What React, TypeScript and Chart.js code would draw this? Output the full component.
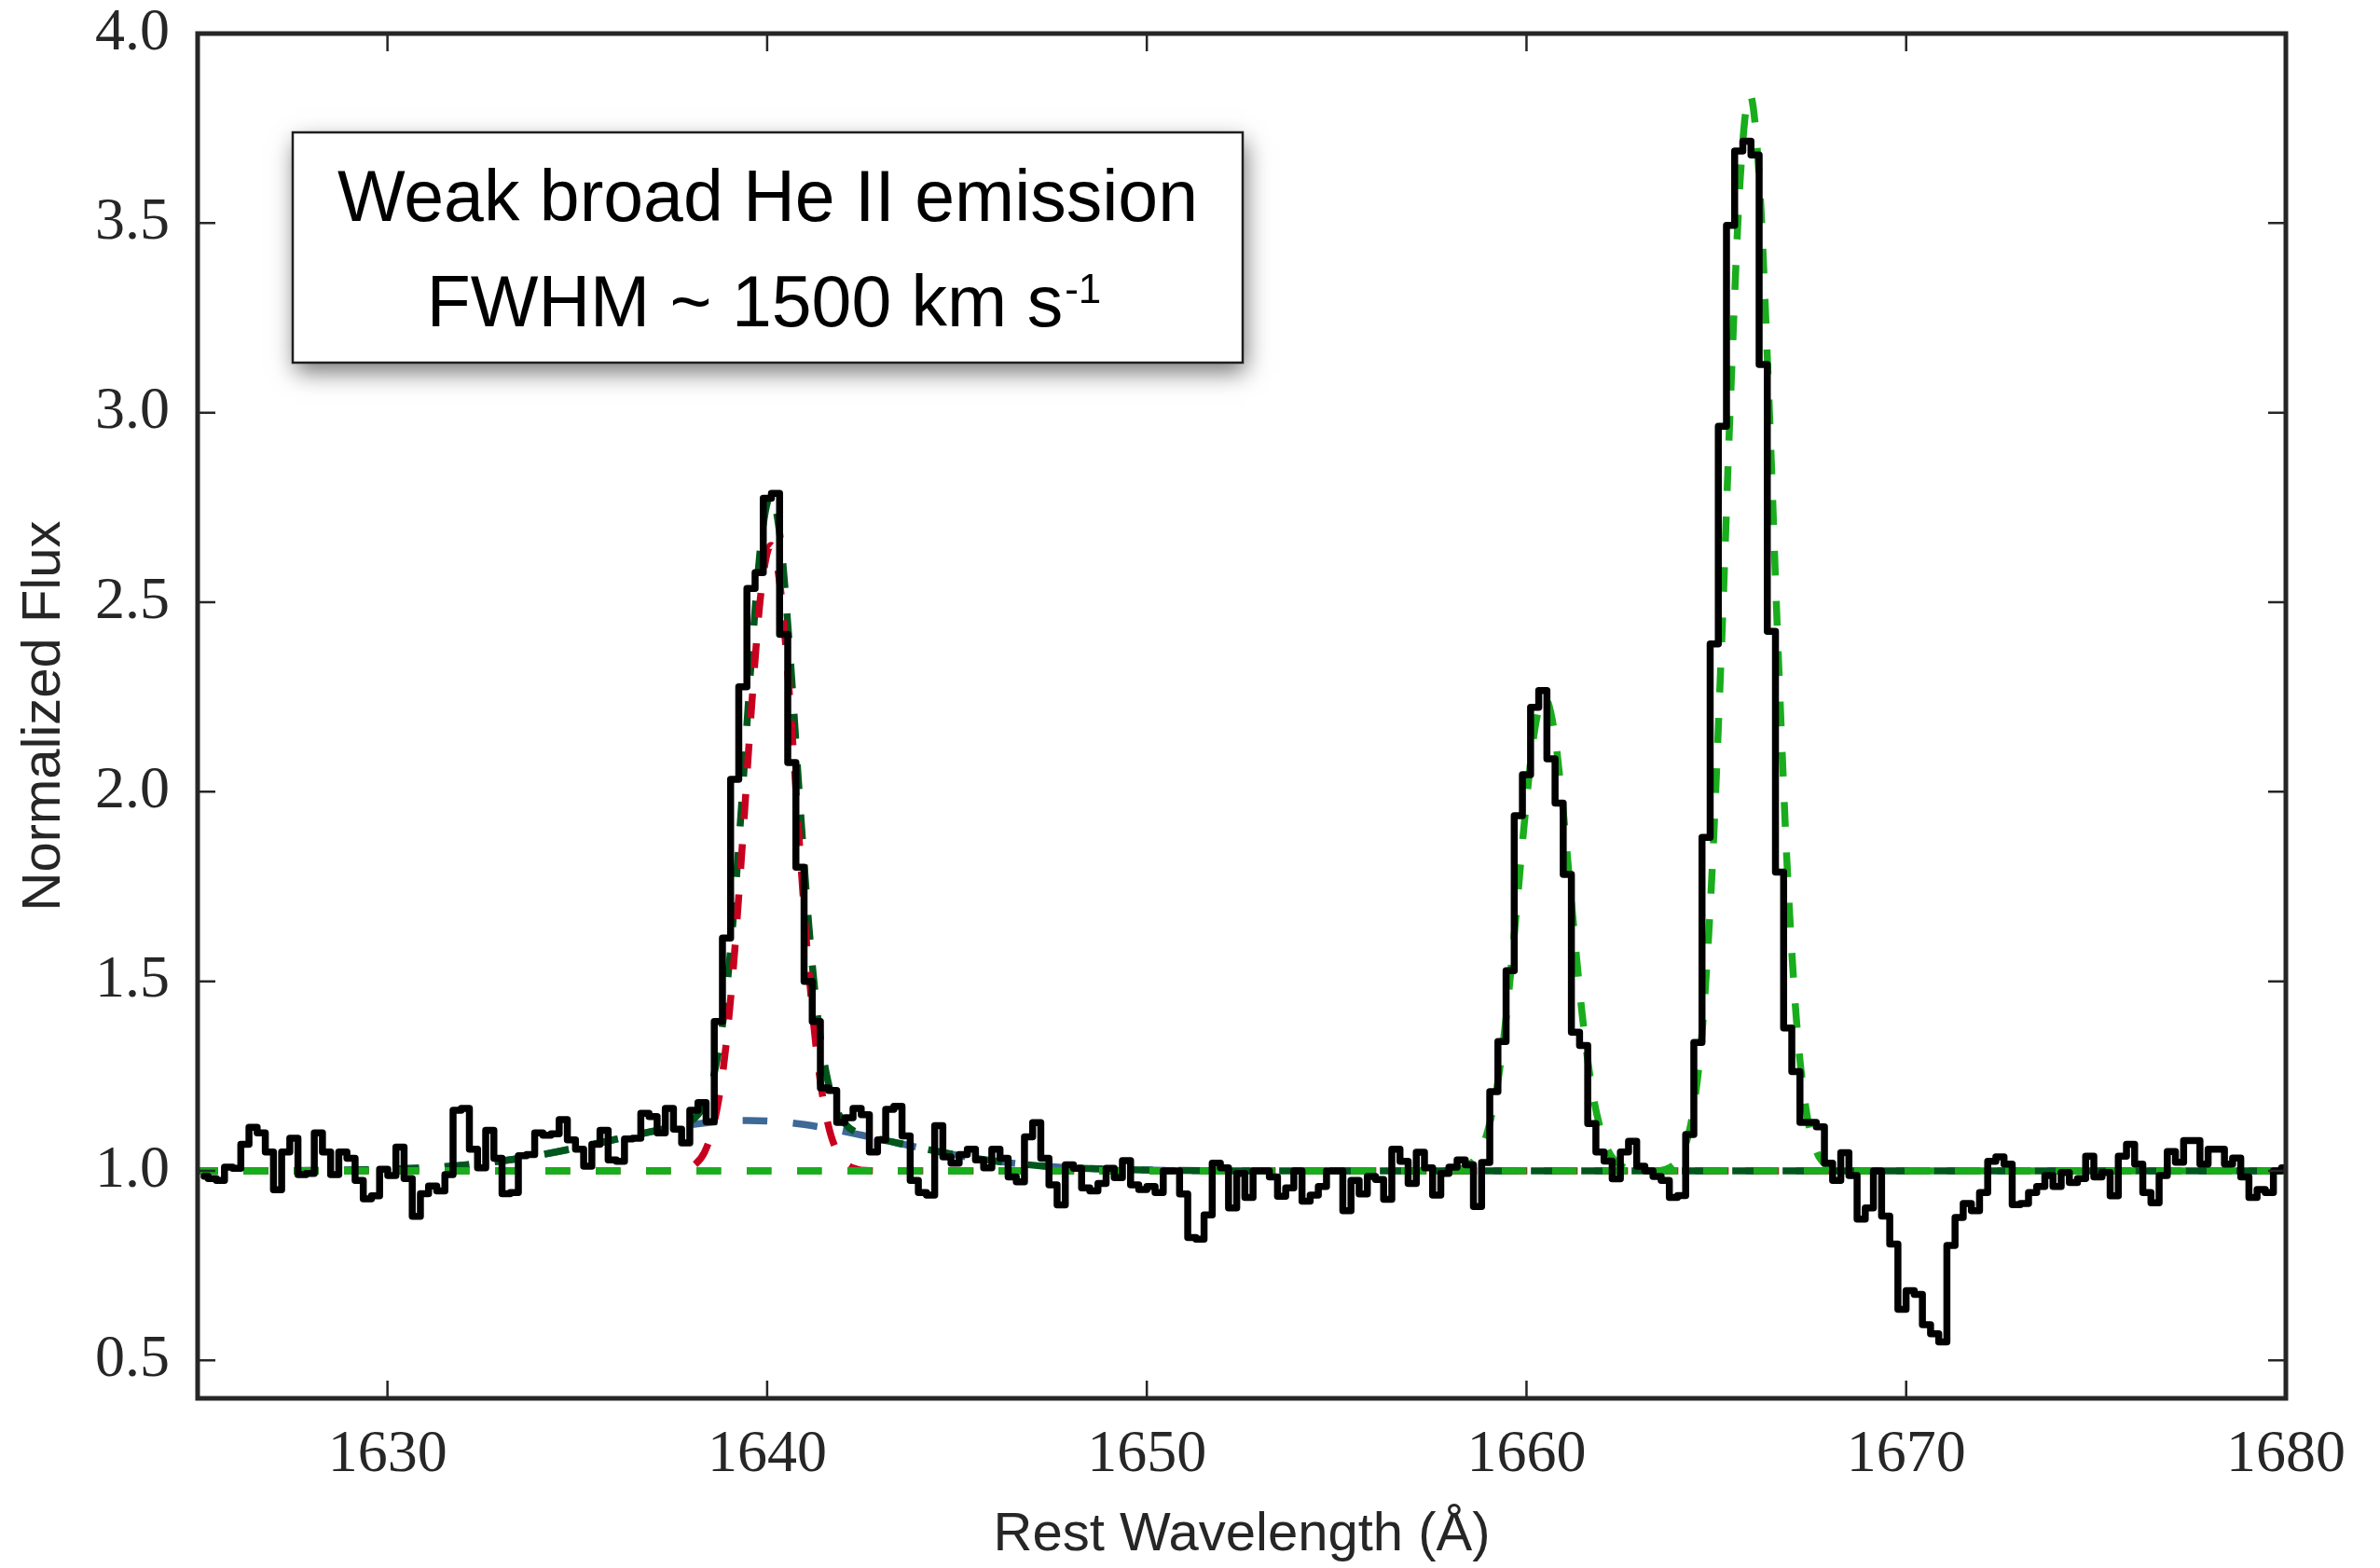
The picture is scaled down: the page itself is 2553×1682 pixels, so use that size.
import React, { useEffect, useRef } from "react";
import { Chart, registerables } from "chart.js";

Chart.register(...registerables);

// ---------------- data ----------------
// spectrum pixel grid (rest-frame wavelength of first pixel centre and dispersion)
const WAVE_START = 1625.17;
const WAVE_STEP = 0.215;

const FLUX = [
  0.986, 0.98, 0.975, 1.01, 1.007, 1.07, 1.115, 1.10, 1.05, 0.95,
  1.05, 1.086, 0.99, 0.993, 1.10, 1.05, 0.99, 1.05, 1.033, 0.975,
  0.926, 0.934, 1.004, 0.988, 1.063, 0.98, 0.88, 0.94, 0.96, 0.947,
  0.99, 1.16, 1.165, 1.057, 1.008, 1.107, 1.033, 0.94, 0.943, 1.04,
  1.043, 1.10, 1.094, 1.098, 1.135, 1.082, 1.057, 1.012, 1.07, 1.107,
  1.029, 1.025, 1.084, 1.086, 1.152, 1.143, 1.10, 1.165, 1.11, 1.074,
  1.16, 1.18, 1.13, 1.394, 1.614, 2.033, 2.277, 2.536, 2.578, 2.774,
  2.787, 2.415, 2.077, 1.801, 1.50, 1.394, 1.219, 1.212, 1.128, 1.14,
  1.165, 1.148, 1.05, 1.082, 1.162, 1.17, 1.092, 0.975, 0.943, 0.936,
  1.119, 1.037, 1.02, 1.043, 1.057, 1.029, 1.008, 1.057, 1.033, 0.984,
  0.971, 1.09, 1.127, 1.033, 0.963, 0.91, 1.016, 1.007, 0.955, 0.947,
  0.967, 1.007, 0.982, 1.027, 0.963, 0.951, 0.959, 0.943, 1.0, 1.0,
  0.939, 0.824, 0.82, 0.884, 1.02, 1.008, 0.902, 0.993, 0.93, 1.0,
  1.0, 0.984, 0.933, 0.955, 1.0, 0.92, 0.936, 0.959, 1.0, 1.0,
  0.895, 0.975, 0.939, 0.985, 0.977, 0.925, 1.057, 1.025, 0.967, 1.049,
  1.008, 0.936, 0.993, 1.01, 1.029, 1.016, 0.906, 1.022, 1.209, 1.341,
  1.528, 1.937, 2.045, 2.223, 2.267, 2.087, 1.97, 1.782, 1.366, 1.331,
  1.125, 1.05, 1.026, 0.979, 1.05, 1.078, 1.012, 1.0, 0.985, 0.975,
  0.93, 0.935, 1.096, 1.339, 1.88, 2.39, 2.964, 3.494, 3.69, 3.716,
  3.68, 3.127, 2.423, 1.788, 1.377, 1.262, 1.128, 1.128, 1.116, 1.02,
  0.975, 1.048, 0.988, 0.873, 0.902, 1.0, 0.881, 0.807, 0.635, 0.684,
  0.674, 0.594, 0.57, 0.549, 0.803, 0.877, 0.914, 0.895, 0.943, 1.025,
  1.037, 1.018, 0.911, 0.914, 0.943, 0.959, 0.988, 0.959, 0.996, 0.969,
  0.98, 1.039, 0.984, 0.996, 0.934, 1.039, 1.07, 1.018, 0.943, 0.916,
  0.988, 1.051, 1.023, 1.08, 1.08, 1.018, 1.057, 1.057, 1.018, 1.034,
  0.984, 0.93, 0.951, 0.943, 1.0, 1.008,
];

// continuum level (bright green dashed)
const CONTINUUM_X = [1625, 1680];
const CONTINUUM_Y = [1.0, 1.0];

// O III] 1661/1666 fit on top of the continuum (bright green dashed)
const OIII_FIT_X = [
  1625, 1657.5, 1658.0, 1658.47, 1658.72, 1658.97, 1659.22, 1659.47, 1659.72, 1659.97,
  1660.22, 1660.47, 1660.72, 1660.97, 1661.22, 1661.47, 1661.72, 1661.97, 1662.22, 1662.47,
  1662.97, 1663.38, 1663.88, 1664.13, 1664.38, 1664.63, 1664.88, 1665.13, 1665.38, 1665.63,
  1665.88, 1666.13, 1666.38, 1666.63, 1666.88, 1667.13, 1667.38, 1667.63, 1667.88, 1668.38, 1680,
];
const OIII_FIT_Y = [
  1.0, 1.0, 1.001, 1.015, 1.041, 1.102, 1.219, 1.41, 1.669, 1.946,
  2.166, 2.25, 2.166, 1.946, 1.669, 1.41, 1.219, 1.102, 1.041, 1.015,
  1.001, 1.0, 1.016, 1.053, 1.152, 1.372, 1.774, 2.366, 3.05, 3.618,
  3.84, 3.618, 3.05, 2.366, 1.774, 1.372, 1.152, 1.053, 1.016, 1.0, 1.0,
];

// narrow He II component (red dashed)
const HEII_NARROW_X = [
  1625, 1637.1, 1637.6, 1637.85, 1638.1, 1638.35, 1638.6, 1638.85, 1639.1, 1639.35,
  1639.6, 1639.85, 1640.1, 1640.35, 1640.6, 1640.85, 1641.1, 1641.35, 1641.6, 1641.85,
  1642.1, 1642.35, 1642.6, 1643.1, 1680,
];
const HEII_NARROW_Y = [
  1.0, 1.0, 1.001, 1.005, 1.017, 1.049, 1.125, 1.274, 1.524, 1.865,
  2.238, 2.536, 2.65, 2.536, 2.238, 1.865, 1.524, 1.274, 1.125, 1.049,
  1.017, 1.005, 1.001, 1.0, 1.0,
];

// total He II fit, narrow + broad (dark green dashed)
const HEII_TOTAL_X = [
  1625, 1627.5, 1629.5, 1630.5, 1631.5, 1632.5, 1633.5, 1634.5, 1635.5, 1636.5,
  1637.1, 1637.6, 1637.85, 1638.1, 1638.35, 1638.6, 1638.85, 1639.1, 1639.35, 1639.6,
  1639.85, 1640.1, 1640.35, 1640.6, 1640.85, 1641.1, 1641.35, 1641.6, 1641.85, 1642.1,
  1642.35, 1642.6, 1643.5, 1644.5, 1645.5, 1646.5, 1647.5, 1648.5, 1649.5, 1651.5,
  1654, 1680,
];
const HEII_TOTAL_Y = [
  1.0, 1.0005, 1.003, 1.006, 1.011, 1.020, 1.033, 1.051, 1.072, 1.094,
  1.107, 1.117, 1.125, 1.140, 1.175, 1.254, 1.405, 1.656, 1.998, 2.371,
  2.668, 2.781, 2.665, 2.365, 1.989, 1.645, 1.391, 1.237, 1.157, 1.119,
  1.102, 1.093, 1.072, 1.051, 1.033, 1.020, 1.011, 1.006, 1.003, 1.0005,
  1.0, 1.0,
];

// broad He II component (blue dashed)
const HEII_BROAD_X = [
  1625, 1627.5, 1629.5, 1630.5, 1631.5, 1632.5, 1633.5, 1634.5, 1635.5, 1636.5,
  1637.5, 1638.5, 1639.5, 1640.5, 1641.5, 1642.5, 1643.5, 1644.5, 1645.5, 1646.5,
  1647.5, 1648.5, 1649.5, 1651.5, 1654, 1680,
];
const HEII_BROAD_Y = [
  1.0, 1.0005, 1.003, 1.006, 1.011, 1.020, 1.033, 1.051, 1.072, 1.094,
  1.114, 1.128, 1.133, 1.128, 1.114, 1.094, 1.072, 1.051, 1.033, 1.020,
  1.011, 1.006, 1.003, 1.0005, 1.0, 1.0,
];

const X_TICKS = [1630, 1640, 1650, 1660, 1670, 1680];
const Y_TICKS = [0.5, 1.0, 1.5, 2.0, 2.5, 3.0, 3.5, 4.0];

const X_TITLE = "Rest Wavelength (Å)";
const Y_TITLE = "Normalized Flux";
const ANNOT_LINE1 = "Weak broad He II emission";
const ANNOT_LINE2 = "FWHM ~ 1500 km s";
const ANNOT_SUP = "-1";

// ---------------- layout / style ----------------
const W = 2553;
const H = 1682;
const AXIS_COLOR = "#262626";
const SERIF = "'Liberation Serif', 'DejaVu Serif', serif";
const SANS = "'Liberation Sans', Arial, sans-serif";
const DASH = [26.5, 27.5];

const zip = (xs: number[], ys: number[]) => xs.map((x, i) => ({ x, y: ys[i] }));

const framePlugin = {
  id: "frameAndTicks",
  afterDatasetsDraw(chart: any) {
    const { ctx, chartArea: a, scales } = chart;
    const TL = 19;
    ctx.save();
    ctx.strokeStyle = AXIS_COLOR;
    ctx.lineWidth = 2.5;
    ctx.lineCap = "butt";
    ctx.beginPath();
    scales.x.ticks.forEach((t: any) => {
      const px = scales.x.getPixelForValue(t.value);
      ctx.moveTo(px, a.bottom);
      ctx.lineTo(px, a.bottom - TL);
      ctx.moveTo(px, a.top);
      ctx.lineTo(px, a.top + TL);
    });
    scales.y.ticks.forEach((t: any) => {
      const py = scales.y.getPixelForValue(t.value);
      ctx.moveTo(a.left, py);
      ctx.lineTo(a.left + TL, py);
      ctx.moveTo(a.right, py);
      ctx.lineTo(a.right - TL, py);
    });
    ctx.stroke();
    ctx.lineWidth = 5;
    ctx.strokeRect(a.left, a.top, a.right - a.left, a.bottom - a.top);
    ctx.restore();
  },
  afterDraw(chart: any) {
    const ctx = chart.ctx;
    const bx = 314, by = 142, bw = 1019, bh = 247;
    const cx = bx + bw / 2;
    ctx.save();
    ctx.shadowColor = "rgba(0,0,0,0.55)";
    ctx.shadowBlur = 24;
    ctx.shadowOffsetX = 3;
    ctx.shadowOffsetY = 10;
    ctx.fillStyle = "#ffffff";
    ctx.fillRect(bx, by, bw, bh);
    ctx.restore();

    ctx.save();
    ctx.strokeStyle = "#1e1e1e";
    ctx.lineWidth = 2.5;
    ctx.strokeRect(bx, by, bw, bh);
    ctx.fillStyle = "#000";
    ctx.textBaseline = "alphabetic";
    ctx.textAlign = "center";
    ctx.font = `77px ${SANS}`;
    ctx.fillText(ANNOT_LINE1, cx, 237);
    const w1 = ctx.measureText(ANNOT_LINE2).width;
    ctx.font = `44px ${SANS}`;
    const w2 = ctx.measureText(ANNOT_SUP).width;
    const x0 = cx - (w1 + w2 + 2) / 2 - 4;
    ctx.textAlign = "left";
    ctx.font = `77px ${SANS}`;
    ctx.fillText(ANNOT_LINE2, x0, 350);
    ctx.font = `44px ${SANS}`;
    ctx.fillText(ANNOT_SUP, x0 + w1 + 2, 325);
    ctx.restore();
  },
};

export default function App() {
  const ref = useRef<HTMLCanvasElement | null>(null);

  useEffect(() => {
    if (!ref.current) return;
    const spectrum = FLUX.map((f, i) => ({ x: WAVE_START + i * WAVE_STEP, y: f }));
    const dashed = (data: any[], color: string) => ({
      data,
      borderColor: color,
      backgroundColor: color,
      borderWidth: 7.5,
      borderDash: DASH,
      borderDashOffset: 5,
      cubicInterpolationMode: "monotone" as const,
      pointRadius: 0,
      fill: false,
    });

    const chart = new Chart(ref.current, {
      type: "line",
      data: {
        datasets: [
          {
            data: spectrum,
            borderColor: "#000000",
            backgroundColor: "#000000",
            borderWidth: 7.5,
            stepped: "middle",
            pointRadius: 0,
            borderJoinStyle: "round",
            borderCapStyle: "round",
            fill: false,
          },
          dashed(zip(OIII_FIT_X, OIII_FIT_Y), "#19ad1d"),
          dashed(zip(CONTINUUM_X, CONTINUUM_Y), "#19ad1d"),
          dashed(zip(HEII_NARROW_X, HEII_NARROW_Y), "#c8001f"),
          dashed(zip(HEII_TOTAL_X, HEII_TOTAL_Y), "#00571b"),
          dashed(zip(HEII_BROAD_X, HEII_BROAD_Y), "#3d6996"),
        ] as any,
      },
      options: {
        responsive: false,
        animation: false,
        devicePixelRatio: 1,
        events: [],
        layout: { padding: { left: 0, right: 101, top: 36, bottom: 0 } },
        plugins: {
          legend: { display: false },
          tooltip: { enabled: false },
          title: { display: false },
        },
        scales: {
          x: {
            type: "linear",
            min: 1625,
            max: 1680,
            afterBuildTicks: (s: any) => {
              s.ticks = X_TICKS.map((v) => ({ value: v }));
            },
            afterFit: (s: any) => {
              s.height = 182;
              s.paddingLeft = 0;
              s.paddingRight = 0;
            },
            grid: { display: false, drawTicks: false },
            border: { display: false },
            ticks: {
              padding: 23,
              autoSkip: false,
              maxRotation: 0,
              color: AXIS_COLOR,
              font: { family: SERIF, size: 64 },
              callback: (v: any) => String(v),
            },
            title: {
              display: true,
              text: X_TITLE,
              color: AXIS_COLOR,
              font: { family: SANS, size: 58 },
              padding: { top: 0, bottom: 0 },
            },
          },
          y: {
            type: "linear",
            min: 0.4,
            max: 4.0,
            afterBuildTicks: (s: any) => {
              s.ticks = Y_TICKS.map((v) => ({ value: v }));
            },
            afterFit: (s: any) => {
              s.width = 212;
              s.paddingTop = 0;
              s.paddingBottom = 0;
            },
            grid: { display: false, drawTicks: false },
            border: { display: false },
            ticks: {
              padding: 30,
              color: AXIS_COLOR,
              font: { family: SERIF, size: 64 },
              callback: (v: any) => Number(v).toFixed(1),
            },
            title: {
              display: true,
              text: Y_TITLE,
              color: AXIS_COLOR,
              font: { family: SANS, size: 58 },
              padding: { top: 13, bottom: 0 },
            },
          },
        },
      } as any,
      plugins: [framePlugin],
    });
    return () => chart.destroy();
  }, []);

  return (
    <div style={{ position: "fixed", left: 0, top: 0, width: W, height: H, background: "#fff" }}>
      <canvas ref={ref} width={W} height={H} style={{ display: "block", width: W, height: H }} />
    </div>
  );
}
